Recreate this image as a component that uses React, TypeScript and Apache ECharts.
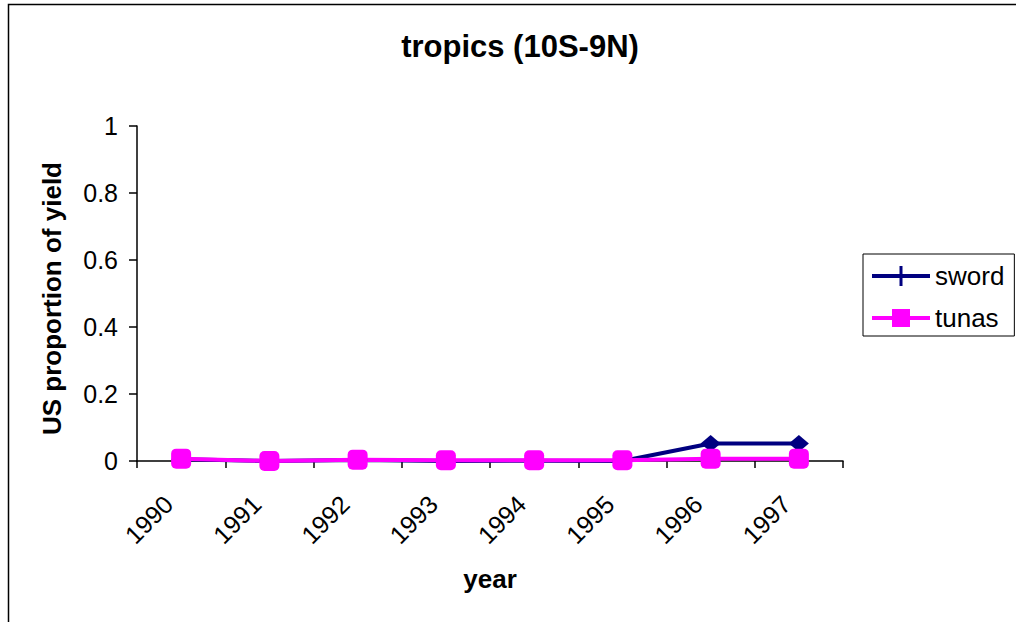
import React, { useEffect, useRef } from "react";
import * as echarts from "echarts";

const years = ["1990", "1991", "1992", "1993", "1994", "1995", "1996", "1997"];
const sword = [0.005, 0.0, 0.003, 0.0, 0.001, 0.0, 0.052, 0.052];
const tunas = [0.007, 0.0, 0.004, 0.002, 0.002, 0.002, 0.007, 0.007];
const yTicks = [0, 0.2, 0.4, 0.6, 0.8, 1];

const FONT = "'Liberation Sans', Arial, sans-serif";

export default function App() {
  const ref = useRef<HTMLDivElement>(null);
  useEffect(() => {
    if (!ref.current) return;
    const chart = echarts.init(ref.current, undefined, { renderer: "svg" });
    chart.setOption({
      animation: false,
      backgroundColor: "#ffffff",
      textStyle: { fontFamily: FONT },
      title: {
        text: "tropics (10S-9N)",
        left: 515,
        top: 26,
        textAlign: "center",
        textStyle: { fontFamily: FONT, fontSize: 31, fontWeight: "bold", color: "#000" },
      },
      graphic: [
        {
          type: "rect",
          shape: { x: 8.5, y: 4.5, width: 1200, height: 800 },
          style: { fill: "none", stroke: "#000", lineWidth: 1.5 },
          silent: true,
        },
      ],
      legend: {
        orient: "vertical",
        left: 863,
        top: 254,
        padding: [9, 10, 5, 9],
        itemGap: 16,
        itemWidth: 58,
        itemHeight: 20,
        itemStyle: { borderWidth: 0 },
        borderColor: "#000",
        borderWidth: 1,
        textStyle: { fontFamily: FONT, fontSize: 26, color: "#000" },
        data: [
          {
            name: "sword",
            icon: "path://M0,8 L58,8 L58,12 L0,12 Z M27.5,0 L30.5,0 L30.5,20 L27.5,20 Z",
          },
          {
            name: "tunas",
            icon: "path://M0,8 L20,8 L20,1 L38,1 L38,8 L58,8 L58,12 L38,12 L38,19 L20,19 L20,12 L0,12 Z",
          },
        ],
      },
      grid: { left: 137, right: 173, top: 126, bottom: 161, containLabel: false },
      xAxis: {
        type: "category",
        data: years,
        boundaryGap: true,
        name: "year",
        nameLocation: "middle",
        nameGap: 105,
        nameTextStyle: { fontFamily: FONT, fontSize: 26, fontWeight: "bold", color: "#000" },
        axisLine: { lineStyle: { color: "#000", width: 1.5 } },
        axisTick: { show: true, length: 7, lineStyle: { color: "#000", width: 1.5 } },
        axisLabel: {
          rotate: 45,
          margin: 26,
          padding: [0, 18, 0, 0],
          fontFamily: FONT,
          fontSize: 25,
          color: "#000",
        },
        splitLine: { show: false },
      },
      yAxis: {
        type: "value",
        min: 0,
        max: 1,
        interval: 0.2,
        name: "US proportion of yield",
        nameLocation: "middle",
        nameGap: 72,
        nameTextStyle: {
          fontFamily: FONT,
          fontSize: 26,
          fontWeight: "bold",
          color: "#000",
          padding: [0, 10, 0, 0],
        },
        axisLine: { show: true, lineStyle: { color: "#000", width: 1.5 } },
        axisTick: { show: true, length: 8, lineStyle: { color: "#000", width: 1.5 } },
        axisLabel: {
          margin: 19,
          fontFamily: FONT,
          fontSize: 25,
          color: "#000",
          formatter: (v: number) => {
            const t = yTicks.find((x) => Math.abs(x - v) < 1e-9);
            return t === undefined ? "" : String(t);
          },
        },
        splitLine: { show: false },
      },
      series: [
        {
          name: "sword",
          type: "line",
          data: sword,
          symbol: "diamond",
          symbolSize: [20, 17],
          color: "#000080",
          lineStyle: { color: "#000080", width: 4 },
          itemStyle: { color: "#000080" },
        },
        {
          name: "tunas",
          type: "line",
          data: tunas,
          symbol: "roundRect",
          symbolSize: 20,
          color: "#ff00ff",
          lineStyle: { color: "#ff00ff", width: 4 },
          itemStyle: { color: "#ff00ff" },
        },
      ],
    });
    return () => chart.dispose();
  }, []);
  return (
    <div
      ref={ref}
      style={{ position: "absolute", left: 0, top: 0, width: 1016, height: 622 }}
    />
  );
}
